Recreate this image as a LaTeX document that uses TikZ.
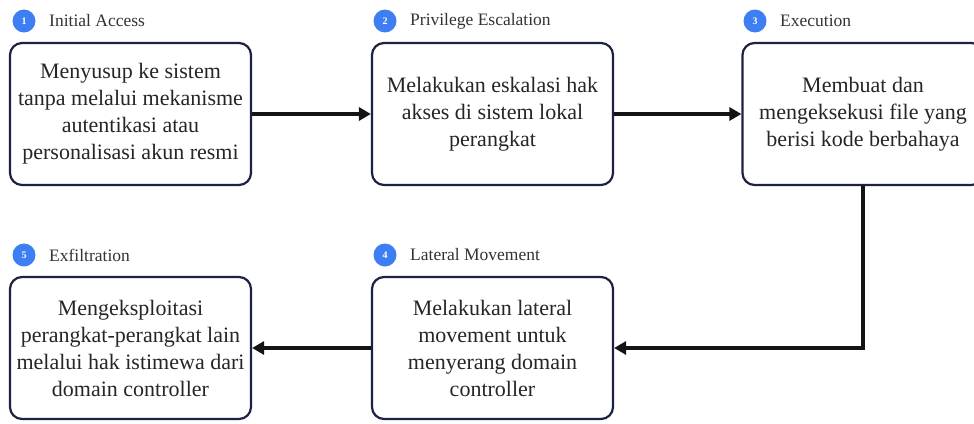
\documentclass[tikz,border=0pt]{standalone}
\usepackage{fontspec}
\setmainfont{Liberation Serif}
\usetikzlibrary{arrows.meta}
\definecolor{badgeblue}{HTML}{3D7EF2}
\definecolor{boxline}{HTML}{1C2240}
\definecolor{arrowc}{HTML}{141414}
\begin{document}
\begin{tikzpicture}[x=1pt,y=-1pt,
  stepbox/.style={draw=boxline,line width=2.2pt,rounded corners=12pt,fill=white,
    minimum width=241pt,minimum height=142pt,align=center,inner sep=2pt,
    font=\fontsize{22}{27}\selectfont,text=black!85},
  badge/.style={circle,fill=badgeblue,minimum size=23pt,inner sep=0pt,
    text=white,font=\fontsize{10}{10}\selectfont\bfseries},
  steplabel/.style={anchor=west,inner sep=0pt,font=\fontsize{17.5}{17.5}\selectfont,text=black!80},
  flow/.style={draw=arrowc,line width=4.5pt,-{Triangle[length=12pt,width=13pt]}}]
\useasboundingbox (0,0) rectangle (974,423);
\fill[white] (0,0) rectangle (974,423);

\node[stepbox] (s1) at (130.5,114) {Menyusup ke sistem\\tanpa melalui mekanisme\\autentikasi atau\\personalisasi akun resmi};
\node[stepbox] (s2) at (492.5,114) {Melakukan eskalasi hak\\akses di sistem lokal\\perangkat};
\node[stepbox] (s3) at (863,114) {Membuat dan\\mengeksekusi file yang\\berisi kode berbahaya};
\node[stepbox] (s4) at (492.5,348) {Melakukan lateral\\movement untuk\\menyerang domain\\controller};
\node[stepbox] (s5) at (130.5,348) {Mengeksploitasi\\perangkat-perangkat lain\\melalui hak istimewa dari\\domain controller};

\node[badge] (b1) at (24,21) {1};
\node[steplabel] (l1) at (49,21) {Initial Access};
\node[badge] (b2) at (385,21) {2};
\node[steplabel] (l2) at (410,21) {Privilege Escalation};
\node[badge] (b3) at (755,21) {3};
\node[steplabel] (l3) at (780,21) {Execution};
\node[badge] (b4) at (385,255) {4};
\node[steplabel] (l4) at (410,255) {Lateral Movement};
\node[badge] (b5) at (24,255) {5};
\node[steplabel] (l5) at (49,255) {Exfiltration};

\draw[flow] (s1.east) -- (s2.west);
\draw[flow] (s2.east) -- (s3.west);
\draw[flow] (s3.south) |- (s4.east);
\draw[flow] (s4.west) -- (s5.east);
\end{tikzpicture}
\end{document}
